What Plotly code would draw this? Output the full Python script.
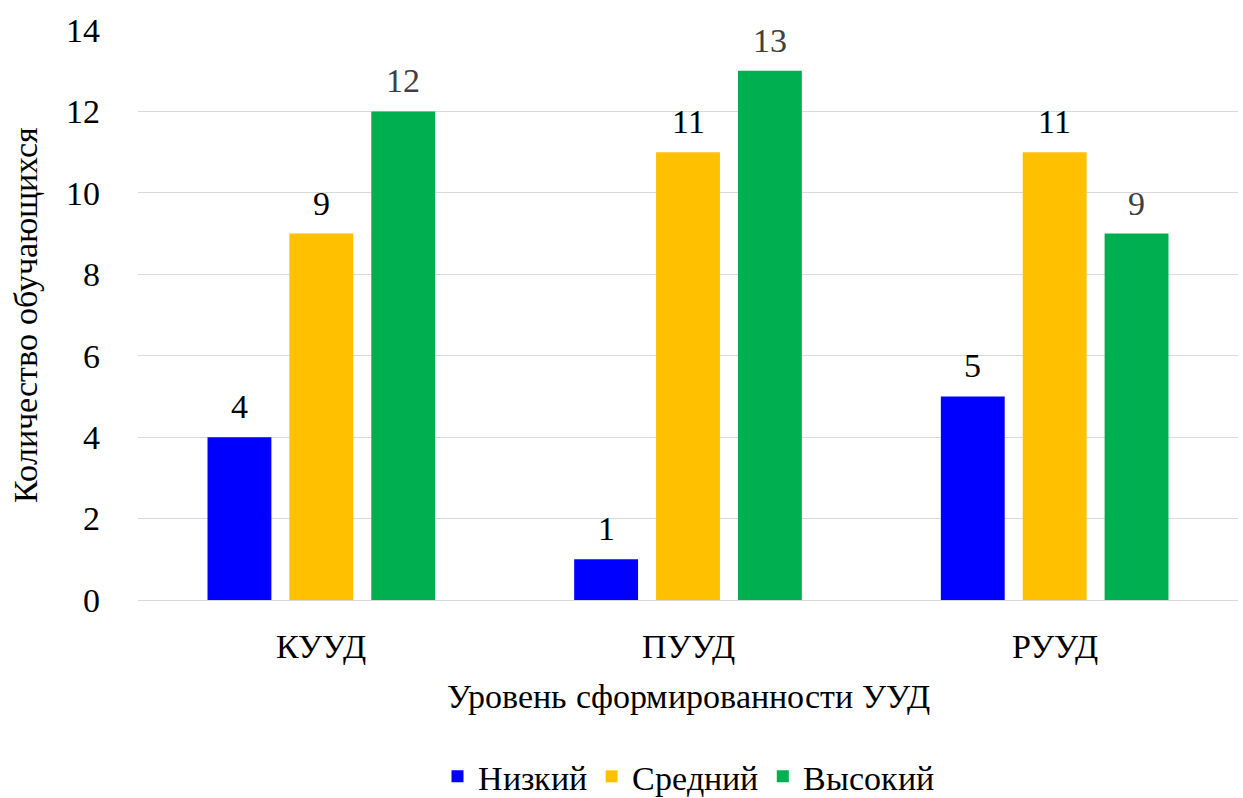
import base64
import glob

import plotly.graph_objects as go

categories = ["КУУД", "ПУУД", "РУУД"]
low = [4, 1, 5]
mid = [9, 11, 11]
high = [12, 13, 9]
series_names = ["Низкий", "Средний", "Высокий"]
y_ticks = [0, 2, 4, 6, 8, 10, 12, 14]

SIZE = 34
colors = ["#0000FF", "#FFC000", "#00B050"]
label_colors = ["#000000", "#000000", "#404040"]
slot_px = 82  # horizontal distance between neighbouring bars within a group

# Embed a local Times-like serif face so the page does not depend on font matching
font_file = None
for pattern in ("LiberationSerif-Regular.ttf", "Tinos-Regular.ttf", "Times*New*Roman*.ttf", "times.ttf"):
    hits = (glob.glob("/usr/share/fonts/**/" + pattern, recursive=True)
            + glob.glob("/usr/local/share/fonts/**/" + pattern, recursive=True))
    if hits:
        font_file = hits[0]
        break

post_js = None
if font_file:
    with open(font_file, "rb") as fh:
        b64 = base64.b64encode(fh.read()).decode("ascii")
    FONT = "ChartSerif, Liberation Serif, Times New Roman, serif"
    post_js = (
        "var ff = new FontFace('ChartSerif', 'url(data:font/ttf;base64," + b64 + ")');"
        "document.fonts.add(ff);"
        "ff.load().then(function(){"
        "var gd = document.getElementById('{plot_id}');"
        "Plotly.react(gd, gd.data, gd.layout);"
        "});"
    )
else:
    FONT = "Liberation Serif"

fig = go.Figure()
for i, (name, vals, c, lc) in enumerate(zip(series_names, [low, mid, high], colors, label_colors)):
    fig.add_trace(go.Bar(
        x=categories, y=vals, name=name,
        marker=dict(color=c, line=dict(width=0)),
    ))
    for cat, v in zip(categories, vals):
        fig.add_annotation(
            x=cat, y=v, text=str(v), showarrow=False,
            xanchor="center", yanchor="bottom", xshift=(i - 1) * slot_px, yshift=10,
            font=dict(family=FONT, size=SIZE, color=lc),
        )

fig.update_layout(
    width=1243, height=798,
    margin=dict(l=138, r=5, t=30, b=198, autoexpand=False),
    paper_bgcolor="white", plot_bgcolor="white",
    barmode="group", bargap=0.33, bargroupgap=0.22,
    font=dict(family=FONT, size=SIZE, color="#000000"),
    legend=dict(orientation="h", x=0.5, xanchor="center", y=-0.31, yanchor="middle",
                font=dict(family=FONT, size=SIZE, color="#000000")),
)
fig.update_xaxes(
    title=dict(text="Уровень сформированности УУД", standoff=20,
               font=dict(family=FONT, size=SIZE, color="#000000")),
    tickfont=dict(family=FONT, size=SIZE, color="#000000"),
    showgrid=False, showline=False,
    ticks="outside", ticklen=16, tickcolor="rgba(0,0,0,0)",
    automargin=False,
)
fig.update_yaxes(
    title=dict(text="Количество обучающихся", standoff=18,
               font=dict(family=FONT, size=SIZE, color="#000000")),
    tickfont=dict(family=FONT, size=SIZE, color="#000000"),
    range=[0, 14], tickvals=y_ticks,
    showgrid=True, gridcolor="#D9D9D9", gridwidth=1.3,
    zeroline=True, zerolinecolor="#D9D9D9", zerolinewidth=1.3,
    ticks="outside", ticklen=30, tickcolor="rgba(0,0,0,0)",
    automargin=False,
)
fig.write_html("out.html", post_script=post_js)
